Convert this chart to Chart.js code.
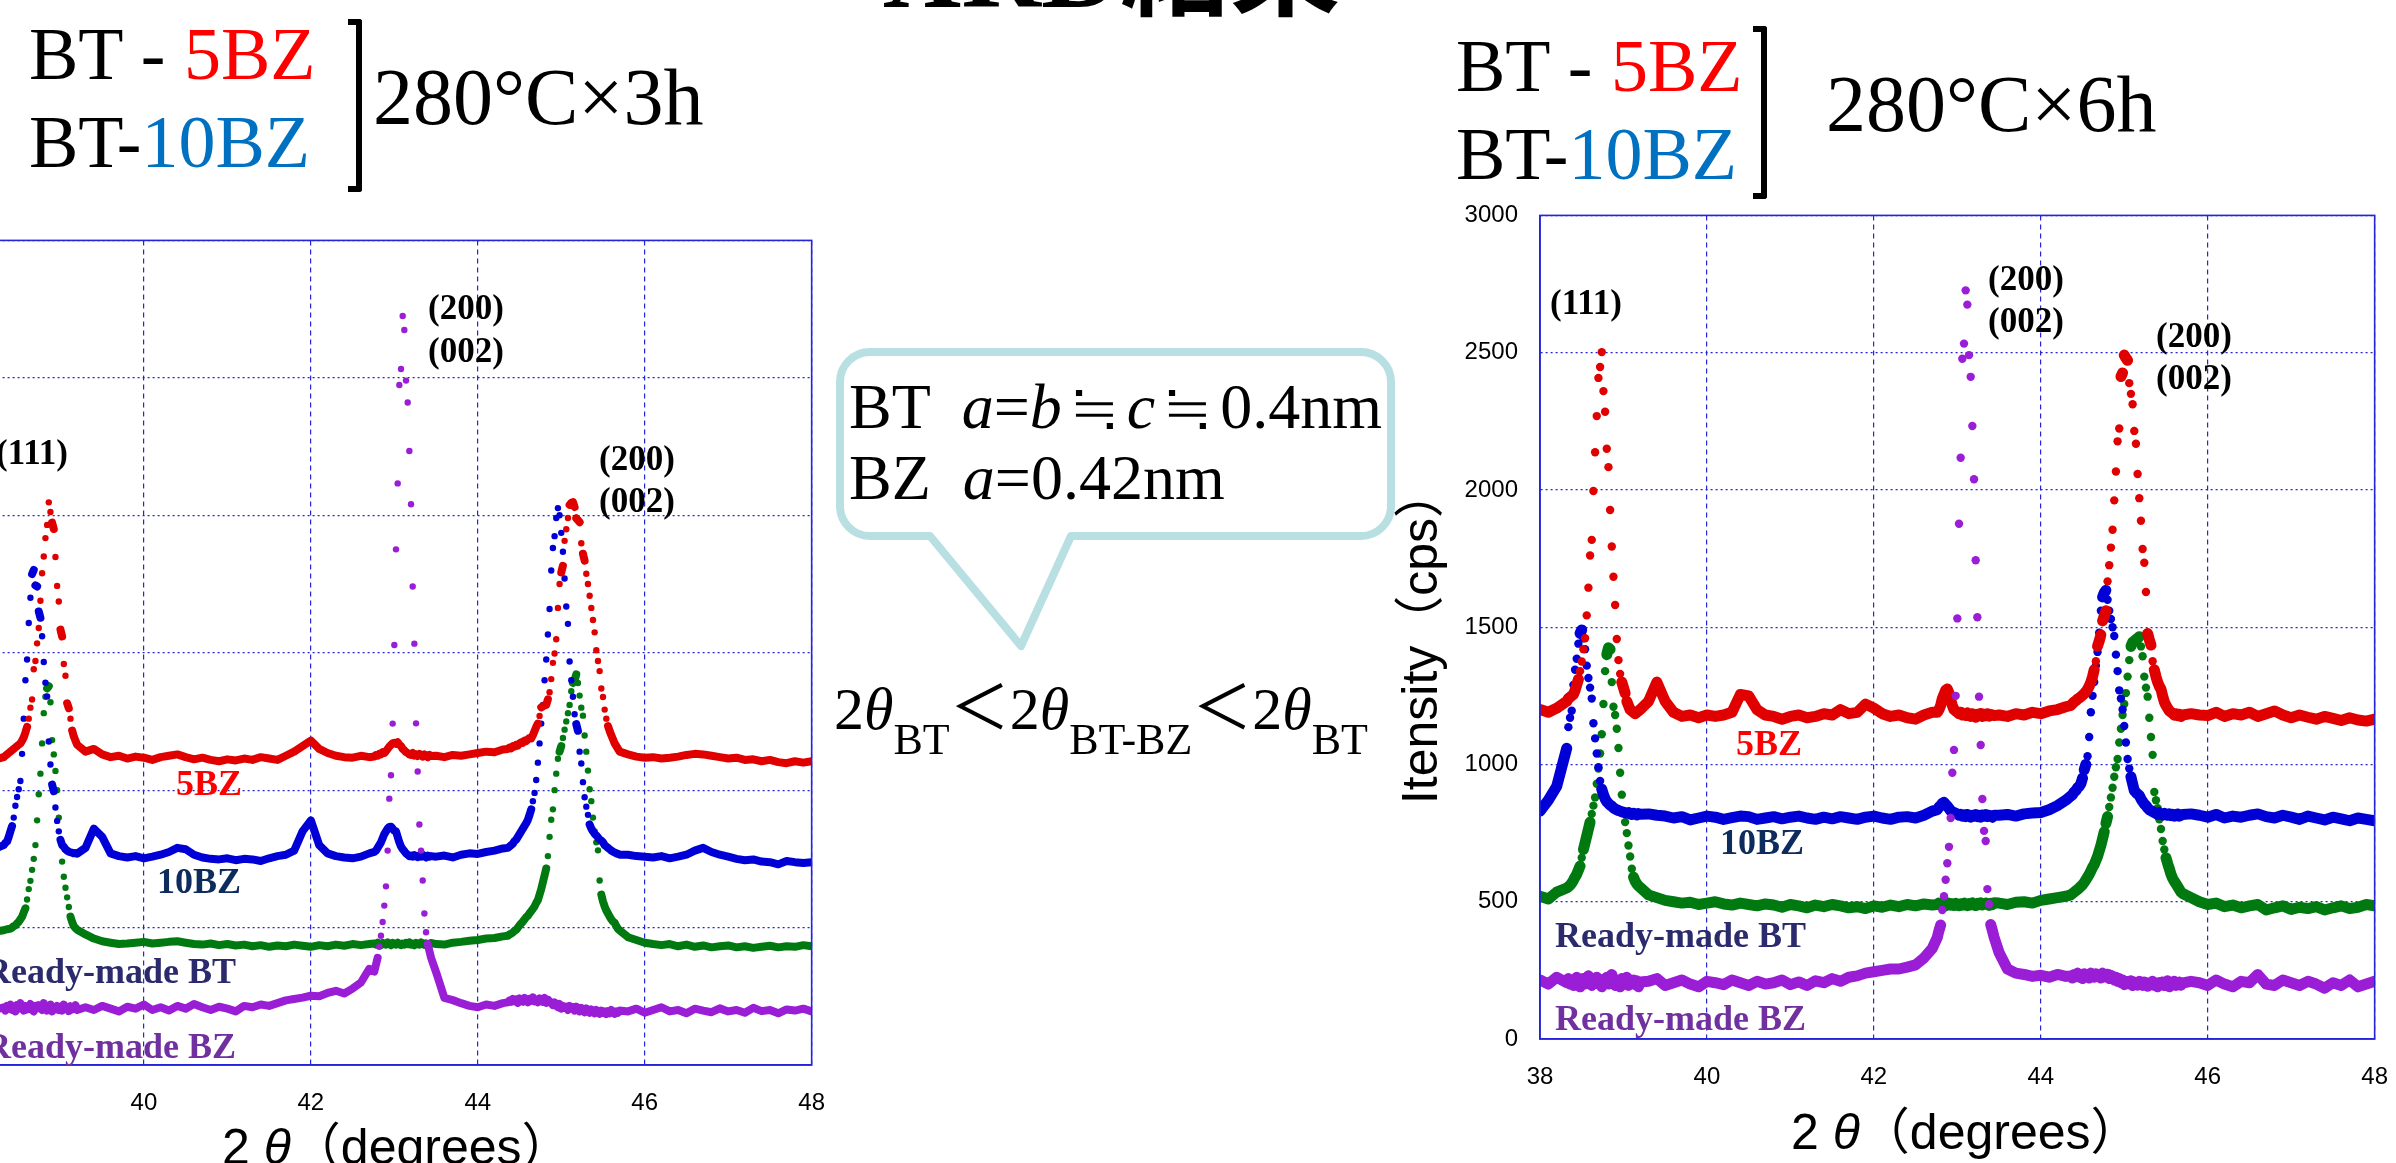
<!DOCTYPE html>
<html lang="ja">
<head>
<meta charset="utf-8">
<title>XRD結果</title>
<script src="https://cdn.jsdelivr.net/npm/chart.js@4.4.1/dist/chart.umd.min.js"></script>
<style>
  html, body { margin: 0; padding: 0; background: #fff; }
  #slide { position: relative; width: 2396px; height: 1163px; overflow: hidden; background: #fff; }
  canvas { position: absolute; }
  .t { position: absolute; line-height: 1; white-space: pre; color: #000;
       font-family: "Liberation Serif", "Noto Sans CJK JP", serif; }
  .sans { font-family: "Liberation Sans", "Noto Sans CJK JP", sans-serif; }
  .peak { font-size: 35px; font-weight: bold; }
  .name { font-size: 36px; font-weight: bold; }
  .bracket { position: absolute; box-sizing: border-box; width: 14px; height: 173px;
             border: 6px solid #000; border-left: none; border-radius: 0 3px 3px 0; }
  .sub { font-size: 44px; vertical-align: -25px; }
  .lt { font-family: "Noto Sans CJK JP", sans-serif; font-size: 60px; }
  .approx { font-family: "Noto Sans CJK JP", sans-serif; margin: 0 7px; }
</style>
</head>
<body>
<div id="slide">
  <canvas id="chart3h" width="952" height="931" style="left:-103px; top:204px;"></canvas>
  <canvas id="chart6h" width="952" height="930" style="left:1460px; top:179px;"></canvas>

  <div class="t" style="left:882px; top:-85px; font-size:110px; font-weight:bold;">XRD結果</div>

  <!-- left heading -->
  <div class="t" style="left:29px; top:17px; font-size:74px;">BT - <span style="color:#ff0000">5BZ</span></div>
  <div class="t" style="left:29px; top:105px; font-size:74px;">BT-<span style="color:#0070c0">10BZ</span></div>
  <div class="bracket" style="left:348px; top:19px;"></div>
  <div class="t" style="left:373px; top:57px; font-size:80px;">280°C×3h</div>

  <!-- right heading -->
  <div class="t" style="left:1456px; top:29px; font-size:74px;">BT - <span style="color:#ff0000">5BZ</span></div>
  <div class="t" style="left:1456px; top:117px; font-size:74px;">BT-<span style="color:#0070c0">10BZ</span></div>
  <div class="bracket" style="left:1753px; top:26px;"></div>
  <div class="t" style="left:1826px; top:64px; font-size:80px;">280°C×6h</div>

  <!-- callout -->
  <svg style="position:absolute; left:0; top:0;" width="2396" height="1163">
    <path d="M870 352 H1361 A30 30 0 0 1 1391 382 V506 A30 30 0 0 1 1361 536 H1071 L1021 646 L930 536 H870 A30 30 0 0 1 840 506 V382 A30 30 0 0 1 870 352 Z"
          fill="#fff" stroke="#b8dfe2" stroke-width="8" stroke-linejoin="round"/>
  </svg>
  <div class="t" style="left:849px; top:368px; font-size:64px;">BT  <i>a</i>=<i>b</i><span class="approx">≒</span><i>c</i><span class="approx">≒</span>0.4nm</div>
  <div class="t" style="left:849px; top:446px; font-size:64px;">BZ  <i>a</i>=0.42nm</div>
  <div class="t" style="left:834px; top:673px; font-size:60px;">2<i>θ</i><span class="sub">BT</span><span class="lt">＜</span>2<i>θ</i><span class="sub">BT-BZ</span><span class="lt">＜</span>2<i>θ</i><span class="sub">BT</span></div>

  <!-- axis titles -->
  <div class="t sans" style="left:222px; top:1122px; font-size:50px;">2 <i>θ</i>（degrees）</div>
  <div class="t sans" style="left:1791px; top:1107px; font-size:50px;">2 <i>θ</i>（degrees）</div>
  <div class="t sans" style="left:1420px; top:636px; font-size:50px; transform:translate(-50%,-50%) rotate(-90deg);">Itensity（cps）</div>

  <!-- peak labels, 3h -->
  <div class="t peak" style="left:-4px; top:435px;">(111)</div>
  <div class="t peak" style="left:428px; top:290px;">(200)</div>
  <div class="t peak" style="left:428px; top:333px;">(002)</div>
  <div class="t peak" style="left:599px; top:441px;">(200)</div>
  <div class="t peak" style="left:599px; top:483px;">(002)</div>
  <!-- peak labels, 6h -->
  <div class="t peak" style="left:1550px; top:285px;">(111)</div>
  <div class="t peak" style="left:1988px; top:261px;">(200)</div>
  <div class="t peak" style="left:1988px; top:303px;">(002)</div>
  <div class="t peak" style="left:2156px; top:318px;">(200)</div>
  <div class="t peak" style="left:2156px; top:360px;">(002)</div>

  <!-- series names, 3h -->
  <div class="t name" style="left:176px; top:765px; color:#ff0000;">5BZ</div>
  <div class="t name" style="left:157px; top:863px; color:#0d2b5c;">10BZ</div>
  <div class="t name" style="left:-64px; width:300px; text-align:right; top:953px; color:#2a2a6c;">Ready-made BT</div>
  <div class="t name" style="left:-64px; width:300px; text-align:right; top:1028px; color:#7030a0;">Ready-made BZ</div>
  <!-- series names, 6h -->
  <div class="t name" style="left:1736px; top:725px; color:#ff0000;">5BZ</div>
  <div class="t name" style="left:1720px; top:824px; color:#0d2b5c;">10BZ</div>
  <div class="t name" style="left:1555px; top:917px; color:#2a2a6c;">Ready-made BT</div>
  <div class="t name" style="left:1555px; top:1000px; color:#7030a0;">Ready-made BZ</div>
</div>

<script>
// 2θ grid (deg): 0.1 steps on the flat parts, 0.02 steps through the peaks
const thetaSegments = [
  [38.0, 38.2, 0.1], [38.32, 39.2, 0.02], [39.3, 42.7, 0.1], [42.76, 43.44, 0.02],
  [43.5, 44.3, 0.1], [44.36, 45.7, 0.02], [45.8, 48.0, 0.1]
];

// intensities (cps), one sub-array per grid segment -- 280°C x 3h
const bt5bz3h = [
  [1090, 1100, 1110],
  [1120, 1125, 1130, 1135, 1140, 1145, 1150, 1155, 1160, 1165, 1170, 1180, 1192, 1210, 1230,
   1260, 1300, 1330, 1440, 1470, 1534, 1590, 1689, 1789, 1850, 1917, 1965, 2047, 2012, 1973,
   1950, 1848, 1743, 1686, 1584, 1559, 1459, 1416, 1316, 1298, 1260, 1217, 1195, 1180, 1165],
  [1140, 1150, 1130, 1120, 1125, 1115, 1122, 1118, 1110, 1120, 1125, 1130, 1120, 1112, 1118,
   1110, 1105, 1112, 1108, 1115, 1110, 1120, 1115, 1110, 1125, 1140, 1160, 1180, 1150, 1135,
   1125, 1120, 1118, 1125, 1120],
  [1122, 1128, 1125, 1132, 1130, 1138, 1135, 1142, 1150, 1158, 1165, 1170, 1172, 1168, 1174,
   1165, 1160, 1150, 1145, 1138, 1135, 1130, 1128, 1135, 1126, 1130, 1124, 1132, 1128, 1122,
   1130, 1125, 1120, 1128, 1124],
  [1125, 1120, 1128, 1125, 1130, 1135, 1140, 1138, 1148],
  [1150, 1155, 1152, 1160, 1158, 1165, 1162, 1170, 1174, 1172, 1180, 1178, 1185, 1190, 1188,
   1200, 1215, 1230, 1242, 1270, 1301, 1305, 1308, 1310, 1330, 1356, 1404, 1463, 1497, 1549,
   1663, 1750, 1792, 1816, 1907, 1949, 1990, 2038, 2045, 2048, 2030, 1989, 1982, 1975, 1898,
   1860, 1835, 1787, 1750, 1707, 1663, 1619, 1574, 1509, 1470, 1433, 1370, 1339, 1293, 1260,
   1233, 1215, 1199, 1185, 1170, 1160, 1150, 1140],
  [1130, 1122, 1118, 1120, 1115, 1118, 1122, 1128, 1132, 1130, 1125, 1120, 1115, 1118, 1110,
   1112, 1105, 1110, 1102, 1098, 1105, 1100, 1105]
];
const bt10bz3h = [
  [760, 770, 785],
  [800, 808, 813, 830, 850, 869, 900, 943, 975, 1003, 1033, 1132, 1260, 1400, 1475,
   1608, 1700, 1786, 1801, 1745, 1741, 1650, 1627, 1560, 1466, 1391, 1341, 1177, 1093, 1020,
   996, 937, 888, 850, 819, 800, 794, 785, 780, 776, 774, 772, 770, 771, 769],
  [790, 860, 830, 770, 760, 755, 760, 752, 758, 765, 775, 790, 785, 765, 755,
   750, 748, 752, 745, 750, 748, 742, 752, 760, 765, 780, 850, 890, 800, 770,
   760, 755, 752, 758, 770],
  [775, 780, 790, 800, 810, 825, 840, 850, 860, 866, 867, 860, 852, 850, 830,
   810, 795, 785, 778, 770, 765, 760, 762, 758, 764, 760, 756, 762, 758, 765,
   760, 755, 762, 758, 760],
  [758, 762, 755, 765, 770, 768, 775, 780, 788],
  [790, 795, 800, 805, 815, 820, 830, 840, 850, 860, 870, 880, 892, 910, 930,
   960, 990, 1037, 1100, 1170, 1242, 1310, 1400, 1475, 1566, 1659, 1799, 1881, 1924, 1990,
   2026, 2000, 1936, 1867, 1770, 1668, 1605, 1468, 1400, 1340, 1276, 1240, 1216, 1140, 1097,
   1029, 974, 940, 910, 875, 860, 850, 841, 835, 828, 820, 816, 810, 800, 795,
   790, 785, 780, 776, 773, 770, 768, 765],
  [765, 760, 758, 755, 760, 752, 758, 765, 780, 790, 775, 765, 758, 750, 745,
   748, 740, 738, 730, 742, 738, 735, 738]
];
const readyBT3h = [
  [470, 478, 485],
  [490, 492, 494, 495, 496, 500, 505, 508, 515, 521, 530, 539, 555, 570, 602,
   640, 670, 710, 750, 800, 890, 985, 1060, 1170, 1280, 1340, 1370, 1378, 1320, 1182,
   1130, 1070, 1000, 900, 820, 740, 685, 645, 610, 575, 540, 520, 505, 498, 492],
  [475, 460, 450, 445, 440, 442, 445, 448, 442, 445, 448, 450, 445, 440, 438,
   442, 436, 440, 435, 438, 432, 436, 430, 435, 432, 438, 434, 430, 436, 432,
   438, 434, 440, 436, 440],
  [442, 438, 445, 440, 436, 444, 440, 438, 446, 442, 436, 444, 440, 438, 445,
   440, 436, 442, 438, 444, 440, 446, 438, 442, 436, 444, 440, 438, 446, 441,
   437, 443, 440, 438, 444],
  [440, 438, 445, 448, 452, 455, 460, 462, 468],
  [470, 475, 478, 482, 488, 492, 500, 508, 515, 522, 530, 538, 543, 552, 560,
   568, 577, 590, 600, 620, 640, 665, 690, 715, 760, 830, 892, 930, 1000, 1060,
   1114, 1140, 1160, 1190, 1220, 1250, 1280, 1310, 1360, 1390, 1400, 1421, 1390, 1344, 1300,
   1271, 1199, 1140, 1071, 1003, 960, 900, 850, 810, 781, 671, 620, 595, 577, 562,
   551, 540, 530, 522, 517, 505, 495, 490],
  [465, 455, 445, 440, 436, 440, 432, 438, 430, 435, 428, 432, 435, 428, 432,
   426, 430, 434, 428, 432, 430, 436, 432]
];
const readyBZ3h = [
  [205, 212, 200],
  [210, 198, 215, 205, 220, 200, 212, 195, 218, 205, 225, 208, 198, 215, 202,
   210, 222, 200, 195, 215, 205, 218, 210, 200, 225, 212, 198, 206, 220, 195,
   210, 204, 215, 200, 212, 198, 220, 205, 210, 196, 214, 202, 208, 218, 200],
  [210, 200, 215, 205, 195, 212, 205, 220, 200, 210, 198, 215, 205, 222, 210,
   200, 212, 205, 195, 215, 210, 220, 215, 225, 235, 240, 245, 252, 250, 262,
   270, 260, 278, 300, 350],
  [340, 365, 390, 430, 470, 520, 580, 650, 780, 969, 1054, 1242, 1528, 1876, 2116,
   2474, 2532, 2725, 2674, 2490, 2410, 2234, 2040, 1741, 1533, 1243, 1068, 875, 780, 671,
   551, 483, 440, 415, 390],
  [338, 244, 236, 225, 215, 210, 220, 215, 225],
  [228, 235, 230, 240, 232, 238, 226, 242, 235, 230, 244, 236, 228, 240, 234,
   246, 232, 238, 228, 242, 236, 230, 244, 226, 238, 232, 225, 218, 228, 215,
   210, 222, 205, 215, 208, 212, 200, 215, 205, 210, 198, 212, 204, 195, 208,
   200, 192, 206, 198, 190, 202, 195, 188, 200, 194, 186, 198, 190, 195, 185,
   196, 188, 200, 192, 186, 195, 190, 198],
  [195, 205, 190, 200, 210, 195, 200, 188, 205, 198, 192, 206, 195, 200, 190,
   208, 196, 200, 188, 202, 198, 205, 195]
];

// 280°C x 6h
const bt5bz6h = [
  [1200, 1190, 1205],
  [1230, 1240, 1245, 1250, 1255, 1270, 1290, 1310, 1340, 1375, 1420, 1460, 1543, 1644, 1761,
   1818, 1996, 2137, 2269, 2408, 2448, 2502, 2360, 2285, 2150, 2083, 1927, 1794, 1684, 1581,
   1457, 1380, 1330, 1300, 1280, 1260, 1230, 1215, 1200, 1195, 1190, 1185, 1190, 1195, 1200],
  [1230, 1300, 1230, 1190, 1175, 1180, 1170, 1180, 1175, 1180, 1190, 1255, 1250, 1200, 1180,
   1175, 1165, 1175, 1180, 1170, 1175, 1185, 1180, 1200, 1185, 1190, 1220, 1205, 1185, 1175,
   1180, 1170, 1165, 1180, 1190],
  [1190, 1200, 1215, 1240, 1255, 1270, 1275, 1260, 1235, 1215, 1200, 1195, 1190, 1185, 1190,
   1180, 1185, 1178, 1188, 1182, 1175, 1185, 1180, 1172, 1183, 1178, 1186, 1175, 1182, 1178,
   1185, 1176, 1182, 1180, 1178],
  [1180, 1175, 1185, 1180, 1190, 1185, 1195, 1200, 1210],
  [1215, 1222, 1228, 1232, 1238, 1242, 1247, 1252, 1258, 1265, 1274, 1285, 1300, 1320, 1345,
   1376, 1431, 1450, 1472, 1523, 1540, 1560, 1667, 1726, 1790, 1855, 1962, 2067, 2177, 2224,
   2413, 2426, 2491, 2480, 2472, 2389, 2350, 2312, 2215, 2168, 2058, 1970, 1888, 1785, 1735,
   1628, 1477, 1455, 1435, 1376, 1345, 1320, 1300, 1285, 1274, 1250, 1228, 1215, 1205, 1195,
   1191, 1186, 1180, 1185, 1178, 1182, 1175, 1180],
  [1185, 1180, 1178, 1190, 1175, 1185, 1180, 1190, 1175, 1185, 1195, 1180, 1170, 1180, 1172,
   1165, 1175, 1168, 1160, 1170, 1162, 1158, 1165]
];
const bt10bz6h = [
  [830, 870, 920],
  [1059, 1136, 1170, 1196, 1290, 1345, 1385, 1440, 1478, 1490, 1460, 1420, 1360, 1315, 1280,
   1240, 1150, 1095, 1040, 990, 940, 910, 890, 875, 865, 858, 852, 848, 842, 838,
   835, 832, 830, 828, 826, 824, 822, 825, 820, 818, 822, 820, 816, 821, 819],
  [820, 815, 812, 805, 810, 798, 805, 812, 808, 800, 806, 812, 810, 800, 805,
   810, 802, 808, 812, 805, 800, 808, 802, 810, 805, 800, 808, 812, 805, 800,
   808, 810, 805, 815, 830],
  [835, 845, 850, 858, 862, 855, 848, 840, 832, 828, 825, 822, 820, 815, 818,
   812, 816, 810, 818, 814, 808, 815, 812, 818, 810, 814, 808, 816, 812, 818,
   810, 815, 812, 808, 815],
  [815, 818, 812, 820, 823, 825, 835, 850, 870],
  [885, 890, 900, 905, 915, 920, 930, 950, 980, 1000, 1030, 1100, 1190, 1250, 1300,
   1360, 1410, 1480, 1560, 1610, 1625, 1634, 1600, 1560, 1530, 1500, 1468, 1400, 1340, 1270,
   1240, 1200, 1140, 1080, 1020, 985, 955, 930, 905, 898, 892, 887, 875, 865, 856,
   850, 842, 835, 832, 828, 825, 822, 818, 824, 820, 816, 822, 818, 815, 820,
   814, 818, 812, 816, 820, 812, 815, 818],
  [820, 815, 808, 818, 805, 812, 808, 815, 820, 810, 805, 815, 808, 800, 812,
   805, 798, 808, 802, 795, 805, 800, 795]
];
const readyBT6h = [
  [520, 510, 535],
  [550, 555, 560, 568, 578, 590, 600, 615, 630, 660, 690, 715, 740, 765, 790,
   820, 850, 880, 930, 985, 1040, 1110, 1220, 1340, 1400, 1425, 1420, 1300, 1210, 1180,
   1130, 1060, 970, 890, 830, 790, 750, 705, 665, 620, 590, 575, 565, 558, 552],
  [525, 515, 505, 500, 495, 498, 490, 495, 500, 492, 488, 495, 490, 485, 492,
   488, 480, 490, 485, 478, 488, 482, 490, 485, 478, 482, 475, 485, 480, 488,
   482, 490, 485, 492, 488],
  [490, 495, 488, 492, 498, 485, 490, 495, 488, 492, 486, 494, 490, 485, 492,
   488, 495, 490, 486, 493, 489, 495, 490, 486, 494, 490, 496, 488, 492, 495,
   490, 487, 494, 490, 496],
  [495, 490, 498, 500, 495, 505, 510, 515, 520],
  [525, 530, 535, 540, 545, 550, 556, 562, 570, 580, 590, 600, 612, 625, 635,
   650, 665, 685, 705, 730, 755, 785, 810, 845, 880, 915, 955, 990, 1020, 1080,
   1130, 1180, 1220, 1260, 1320, 1380, 1430, 1445, 1450, 1455, 1460, 1465, 1430, 1394, 1320,
   1280, 1247, 1170, 1100, 1035, 900, 870, 841, 800, 765, 721, 690, 660, 639, 620,
   600, 585, 574, 565, 555, 545, 535, 530],
  [515, 500, 490, 495, 482, 488, 478, 485, 490, 470, 478, 485, 472, 480, 475,
   482, 470, 478, 485, 475, 480, 490, 485]
];
const readyBZ6h = [
  [215, 200, 225],
  [205, 220, 200, 215, 195, 210, 225, 205, 190, 215, 220, 200, 210, 230, 205,
   195, 215, 208, 225, 200, 212, 190, 218, 205, 225, 200, 210, 235, 205, 195,
   215, 205, 190, 220, 210, 200, 225, 195, 210, 205, 215, 198, 212, 190, 208],
  [210, 220, 195, 205, 215, 200, 190, 210, 205, 198, 215, 205, 195, 210, 200,
   205, 215, 198, 208, 195, 212, 205, 220, 210, 225, 230, 240, 245, 250, 255,
   255, 262, 270, 295, 330],
  [370, 395, 415, 470, 520, 580, 640, 700, 805, 970, 1053, 1250, 1532, 1877, 2117,
   2478, 2533, 2727, 2675, 2491, 2412, 2233, 2039, 1744, 1536, 1247, 1071, 874, 758, 721,
   546, 491, 417, 395, 371],
  [315, 255, 240, 235, 228, 232, 225, 235, 228],
  [230, 222, 235, 228, 240, 225, 232, 220, 238, 228, 235, 222, 240, 230, 225,
   238, 228, 232, 222, 240, 230, 226, 236, 220, 232, 228, 215, 225, 210, 220,
   205, 215, 198, 210, 205, 200, 212, 195, 208, 200, 196, 210, 202, 195, 208,
   200, 192, 205, 198, 210, 195, 203, 190, 206, 198, 208, 195, 200, 212, 190,
   205, 198, 210, 195, 202, 208, 196, 204],
  [210, 205, 195, 215, 200, 190, 210, 205, 235, 200, 195, 215, 205, 195, 210,
   200, 185, 205, 195, 215, 190, 200, 210]
];

const RED = '#e00000', BLUE = '#0000d6', GREEN = '#007a10', PURPLE = '#9a1ed6';
const GRID_BLUE = '#2424dc';

const theta = thetaSegments.map(([from, to, step]) => {
  const xs = [];
  for (let i = 0; from + i * step <= to + 1e-6; i++) xs.push(+(from + i * step).toFixed(2));
  return xs;
});

function toPoints(name, segs) {
  if (segs.length !== theta.length) throw new Error(name + ': wrong segment count');
  const pts = [];
  segs.forEach((ys, k) => {
    if (ys.length !== theta[k].length)
      throw new Error(`${name}: segment ${k} has ${ys.length} values, grid has ${theta[k].length}`);
    ys.forEach((y, i) => pts.push({ x: theta[k][i], y }));
  });
  return pts;
}

function makeDataset(name, segs, color, dot, line) {
  return {
    label: name,
    data: toPoints(name, segs),
    showLine: true,
    borderColor: color,
    backgroundColor: color,
    borderWidth: line,
    borderCapStyle: 'round',
    borderJoinStyle: 'round',
    tension: 0,
    pointRadius: dot,
    pointHoverRadius: dot,
    pointBorderWidth: 0,
    // steep jumps on the finely sampled peak flanks stay as loose dots
    segment: {
      borderColor: c => (Math.abs(c.p1.y - c.p0.y) > 7 && Math.abs(c.p1.x - c.p0.x) < 4)
        ? 'rgba(0,0,0,0)' : undefined
    }
  };
}

const framePlugin = {
  id: 'frame',
  afterDraw(chart) {
    const { ctx, chartArea: a } = chart;
    ctx.save();
    ctx.strokeStyle = GRID_BLUE;
    ctx.lineWidth = 1.6;
    ctx.strokeRect(a.left, a.top, a.right - a.left, a.bottom - a.top);
    ctx.restore();
  }
};

function makeChart(id, datasets) {
  const tickFont = { family: 'Liberation Sans', size: 24 };
  return new Chart(document.getElementById(id), {
    type: 'scatter',
    data: { datasets },
    options: {
      responsive: false,
      animation: false,
      events: [],
      layout: { padding: { top: 30, right: 30, left: 0, bottom: 0 } },
      plugins: { legend: { display: false }, tooltip: { enabled: false } },
      scales: {
        x: {
          type: 'linear', min: 38, max: 48,
          afterFit: s => { s.height = 70; },
          ticks: { stepSize: 2, padding: 24, color: '#000', font: tickFont, maxRotation: 0,
                   callback: v => String(v) },
          grid: { color: GRID_BLUE, lineWidth: 1.2, drawTicks: false },
          border: { display: true, color: GRID_BLUE, width: 1.6, dash: [5, 4] }
        },
        y: {
          min: 0, max: 3000,
          afterFit: s => { s.width = 80; },
          ticks: { stepSize: 500, padding: 22, color: '#000', font: tickFont,
                   callback: v => String(v) },
          grid: { color: GRID_BLUE, lineWidth: 1.2, drawTicks: false },
          border: { display: true, color: GRID_BLUE, width: 1.6, dash: [2, 3] }
        }
      }
    },
    plugins: [framePlugin]
  });
}

makeChart('chart3h', [
  makeDataset('Ready-made BZ', readyBZ3h, PURPLE, 3.2, 8),
  makeDataset('5BZ', bt5bz3h, RED, 3.2, 8),
  makeDataset('10BZ', bt10bz3h, BLUE, 3.2, 8),
  makeDataset('Ready-made BT', readyBT3h, GREEN, 3.2, 8)
]);
makeChart('chart6h', [
  makeDataset('Ready-made BZ', readyBZ6h, PURPLE, 4.2, 11),
  makeDataset('5BZ', bt5bz6h, RED, 4.2, 11),
  makeDataset('10BZ', bt10bz6h, BLUE, 4.2, 11),
  makeDataset('Ready-made BT', readyBT6h, GREEN, 4.2, 11)
]);
</script>
</body>
</html>
